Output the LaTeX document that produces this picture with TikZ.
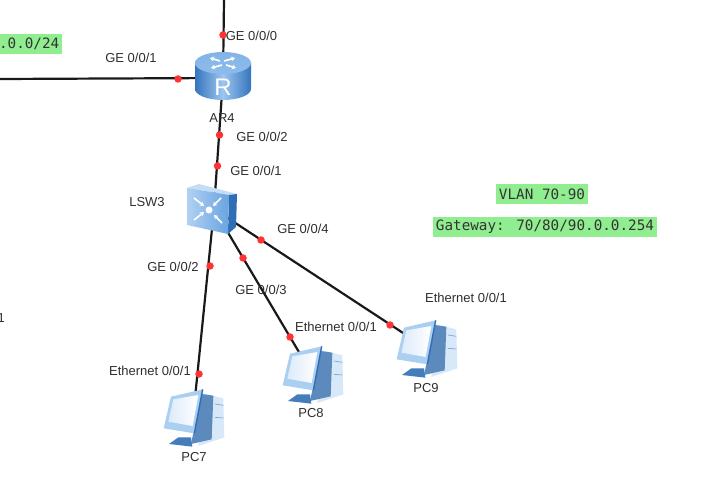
\documentclass[tikz,border=0pt]{standalone}
\usepackage{fontspec}
\setmainfont{Liberation Sans}
\newfontfamily\notefont{DejaVu Sans Mono}
\usepackage{xcolor}
\usetikzlibrary{arrows.meta}
\definecolor{notegreen}{HTML}{90EE90}
\definecolor{lnktext}{HTML}{2E2E2E}
\definecolor{devblue}{HTML}{4F93DC}
\definecolor{devdark}{HTML}{2F6DB5}
\definecolor{devlight}{HTML}{9CC6EF}
\tikzset{
  devnode/.style={inner sep=0pt, minimum size=0pt},
  lnk/.style={draw=black!90, line width=2.2pt},
  portdot/.style={circle, fill=red!80!white, inner sep=0pt, minimum size=7.5pt},
  lbl/.style={font=\fontsize{13}{15}\selectfont, text=lnktext, inner sep=0pt},
  note/.style={font=\notefont\fontsize{14.3}{16}\selectfont, fill=notegreen,
               text=black!80, inner xsep=2.5pt, inner ysep=3pt,
               minimum height=20pt},
  glyph/.style={draw=white, line width=1.7pt, -{Stealth[length=4pt,width=5pt]}},
  pics/routericon/.style={code={
    \path[left color=devdark!80!devblue, right color=devdark!80!devblue, middle color=devlight]
      (-28,-13) -- (-28,13) arc[start angle=180, end angle=0, x radius=28, y radius=11]
      -- (28,-13) -- cycle;
    \path[top color=devblue!70!white, bottom color=devlight!80!devblue]
      (0,-13) ellipse[x radius=28, y radius=11];
    \draw[glyph] (-3,-15) -- (-13,-18);
    \draw[glyph] (-1,-11) -- (-12,-8);
    \draw[glyph] (1,-15) -- (12,-18);
    \draw[glyph] (3,-11) -- (13,-8);
    \node[font=\fontsize{24}{24}\selectfont, text=white, inner sep=0pt] (Rmark) at (0,11) {R};
  }},
  pics/switchicon/.style={code={
    \path[fill=devlight!60!white] (-26,-21) -- (-14,-25) -- (24,-15) -- (16,-14) -- cycle;
    \path[fill=devdark] (16,-14) -- (24,-15) -- (23,18) -- (15,25) -- cycle;
    \path[left color=devlight!80!white, right color=devblue!85!white]
      (-26,-21) -- (16,-14) -- (15,25) -- (-26,16) -- cycle;
    \draw[glyph] (-19,-11) -- (-9,-3);
    \draw[glyph] (8,-11) -- (0,-3);
    \draw[glyph] (-19,11) -- (-9,3);
    \draw[glyph] (9,14) -- (1,6);
    \node[circle, fill=white, inner sep=0pt, minimum size=7pt] (Cmark) at (-4,1) {};
  }},
  pics/pcicon/.style={code={
    \begin{scope}[shift={(-38,-38)}, scale=1/3]
      \path[fill=devlight!40!white] (145,40) -- (205,55) -- (208,172) -- (130,198) -- cycle;
      \path[fill=devblue!80!black!85!white] (140,42) -- (175,47) -- (170,178) -- (108,192) -- cycle;
      \path[fill=devblue!85!black] (42,192) -- (70,172) -- (108,172) -- (112,200) -- cycle;
      \path[fill=devlight!85!white] (48,50) -- (143,28) -- (118,160) -- (26,145) -- cycle;
      \path[left color=devlight!35!white, right color=white] (55,58) -- (130,45) -- (113,138) -- (40,125) -- cycle;
      \draw[devdark, line width=1.4pt] (143,28) -- (118,160);
      \draw[devdark!60, line width=.7pt] (180,72) -- (205,76) (180,112) -- (205,114);
    \end{scope}
  }}
}
\begin{document}
\begin{tikzpicture}[x=1pt, y=-1pt]
  \useasboundingbox (0,0) rectangle (709,486);
  \clip (0,0) rectangle (709,486);
  \coordinate (upl) at (224,0);
  \coordinate (leftl) at (0,79);
  \node[devnode] (AR4) at (223,78) {};
  \node[devnode] (LSW3) at (214,209) {};
  \node[devnode] (PC7) at (193,418) {};
  \node[devnode] (PC8) at (312,374) {};
  \node[devnode] (PC9) at (426,348) {};
  \draw[lnk] (upl) -- (AR4);
  \draw[lnk] (leftl) -- (AR4);
  \draw[lnk] (AR4) -- (LSW3);
  \draw[lnk] (LSW3) -- (PC7);
  \draw[lnk] (LSW3) -- (PC8);
  \draw[lnk] (LSW3) -- (PC9);
  \pic at (223,76) {routericon};
  \pic at (213,209) {switchicon};
  \pic at (193,418) {pcicon};
  \pic at (312,375) {pcicon};
  \pic at (426,349) {pcicon};
  % ports
  \node[portdot] (p1) at (223,35) {};
  \node[portdot] (p2) at (178,79) {};
  \node[portdot] (p3) at (219.5,135) {};
  \node[portdot] (p4) at (217.5,166) {};
  \node[portdot] (p5) at (210,266) {};
  \node[portdot] (p6) at (199,374) {};
  \node[portdot] (p7) at (243,258) {};
  \node[portdot] (p8) at (290,337) {};
  \node[portdot] (p9) at (261,240) {};
  \node[portdot] (p10) at (390,325) {};
  % interface names
  \node[lbl] (ge1) at (251.5,36) {GE 0/0/0};
  \node[lbl] (ge2) at (131,58) {GE 0/0/1};
  \node[lbl] (ge3) at (262,137) {GE 0/0/2};
  \node[lbl] (ge4) at (256,171) {GE 0/0/1};
  \node[lbl] (ge5) at (303,229) {GE 0/0/4};
  \node[lbl] (ge6) at (173,267) {GE 0/0/2};
  \node[lbl] (ge7) at (261,290) {GE 0/0/3};
  \node[lbl] (eth7) at (150,371) {Ethernet 0/0/1};
  \node[lbl] (eth8) at (336,327) {Ethernet 0/0/1};
  \node[lbl] (eth9) at (466,298) {Ethernet 0/0/1};
  % device names
  \node[lbl] (nAR4) at (222,118) {AR4};
  \node[lbl] (nLSW3) at (147,202) {LSW3};
  \node[lbl] (nPC7) at (194,457) {PC7};
  \node[lbl] (nPC8) at (311,413) {PC8};
  \node[lbl] (nPC9) at (426,388) {PC9};
  \node[lbl, anchor=east] (cut) at (5,318) {1};
  % notes
  \node[note, anchor=east] (net) at (62,44) {.0.0/24};
  \node[note] (vlan) at (542,194) {VLAN 70-90};
  \node[note] (gw) at (545,227) {Gateway: 70/80/90.0.0.254};
\end{tikzpicture}
\end{document}
